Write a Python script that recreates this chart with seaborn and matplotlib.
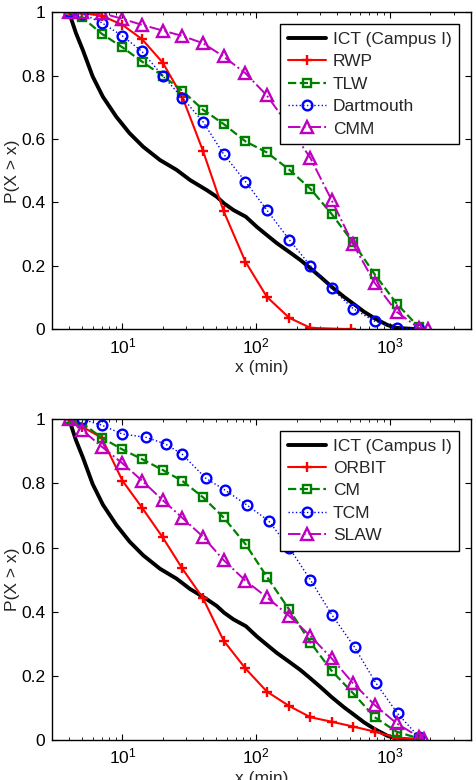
import matplotlib
matplotlib.use("Agg")
import matplotlib.pyplot as plt
import seaborn as sns
from matplotlib.ticker import FixedLocator, FuncFormatter, LogLocator, NullFormatter

# ---------------- data ----------------
ict_x = [4.0, 4.5, 5.06, 6.0, 7.15, 9.0, 11.3, 14.3, 19.1, 25.4, 32, 42.7, 50.7, 57.5, 67.6,
         83.6, 101, 120, 143, 176, 214, 254, 302, 365, 452, 528, 638, 767, 955, 1116, 1585]
ict_y = [1.0, 0.935, 0.882, 0.798, 0.734, 0.671, 0.619, 0.576, 0.534, 0.503, 0.471, 0.439, 0.418,
         0.397, 0.376, 0.355, 0.323, 0.297, 0.271, 0.244, 0.218, 0.192, 0.165, 0.134, 0.102,
         0.081, 0.055, 0.034, 0.013, 0.004, 0.0]

grid_x = [4, 5, 7, 10, 14, 20, 28, 40, 57, 83, 120, 176, 254, 365, 528, 767, 1116, 1632]

rwp_x = [4, 5, 7, 10, 14, 20, 28, 40, 57, 83, 120, 176, 254, 507]
rwp_y = [1.0, 0.998, 0.99, 0.961, 0.916, 0.842, 0.734, 0.563, 0.373, 0.213, 0.102, 0.036, 0.004, 0.0]

tlw_y = [1.0, 0.985, 0.933, 0.890, 0.845, 0.800, 0.753, 0.693, 0.648, 0.593, 0.558, 0.504,
         0.443, 0.364, 0.274, 0.173, 0.081, 0.007]

dart_y = [1.0, 0.996, 0.968, 0.926, 0.877, 0.800, 0.731, 0.655, 0.553, 0.466, 0.376, 0.283,
          0.200, 0.129, 0.065, 0.025, 0.005, 0.0]

cmm_x = [4, 5, 7, 10, 14, 20, 28, 40, 57, 83, 120, 176, 254, 365, 528, 767, 1116, 1632, 1905]
cmm_y = [1.0, 1.0, 0.998, 0.98, 0.961, 0.943, 0.926, 0.903, 0.861, 0.808, 0.738, 0.64, 0.54,
         0.408, 0.269, 0.146, 0.055, 0.004, 0.0]

orbit_y = [1.0, 0.977, 0.943, 0.809, 0.725, 0.632, 0.535, 0.442, 0.31, 0.223, 0.151, 0.106,
           0.071, 0.057, 0.042, 0.026, 0.007, 0.002]

cm_y = [1.0, 0.988, 0.943, 0.906, 0.876, 0.842, 0.808, 0.757, 0.694, 0.611, 0.509, 0.407,
        0.304, 0.216, 0.146, 0.071, 0.026, 0.005]

tcm_x = [5, 7, 10, 15, 21, 28, 42, 58, 85, 124, 176, 254, 369, 543, 781, 1135, 1650]
tcm_y = [1.0, 0.982, 0.954, 0.944, 0.923, 0.891, 0.816, 0.78, 0.733, 0.683, 0.60, 0.499,
         0.389, 0.289, 0.178, 0.083, 0.008]

slaw_x = [4, 5, 7, 10, 14, 20, 28, 40, 57, 83, 120, 176, 254, 365, 528, 767, 1116, 1632, 1800]
slaw_y = [1.0, 0.967, 0.915, 0.863, 0.809, 0.748, 0.693, 0.634, 0.561, 0.497, 0.445, 0.387,
          0.324, 0.255, 0.177, 0.109, 0.052, 0.01, 0.002]

yticks = [0, 0.2, 0.4, 0.6, 0.8, 1]
ytick_labels = ["0", "0.2", "0.4", "0.6", "0.8", "1"]

# ---------------- style ----------------
sns.set_style("ticks")
plt.rcParams["font.family"] = ["Liberation Sans", "DejaVu Sans"]
plt.rcParams["font.size"] = 12.5
plt.rcParams["mathtext.fontset"] = "custom"
plt.rcParams["mathtext.rm"] = "Liberation Sans"

RED = "#FF0000"
GREEN = "#008000"
BLUE = "#0000FF"
MAG = "#BF00BF"

fig = plt.figure(figsize=(4.76, 7.8), dpi=100)
ax1 = fig.add_axes([0.110, 0.578, 0.879, 0.406])
ax2 = fig.add_axes([0.110, 0.0513, 0.879, 0.4111])


def draw(ax, x, y, color, ls, marker, ms, lw, label, mew=1.7):
    sns.lineplot(x=x, y=y, ax=ax, color=color, linestyle=ls, marker=marker,
                 markersize=ms, markerfacecolor="none", markeredgecolor=color,
                 markeredgewidth=mew, linewidth=lw, label=label, sort=False,
                 estimator=None, errorbar=None)


def style(ax):
    ax.set_xscale("log")
    ax.set_xlim(3, 4000)
    ax.set_ylim(0, 1)
    ax.yaxis.set_major_locator(FixedLocator(yticks))
    ax.yaxis.set_major_formatter(FuncFormatter(lambda v, p: ytick_labels[yticks.index(round(v, 1))]
                                               if round(v, 1) in yticks else ""))
    ax.xaxis.set_major_locator(LogLocator(base=10, numticks=10))
    ax.xaxis.set_minor_locator(LogLocator(base=10, subs=range(2, 10), numticks=20))
    ax.xaxis.set_minor_formatter(NullFormatter())
    ax.tick_params(which="both", direction="in", top=True, right=True, colors="black",
                   labelsize=12.5)
    ax.tick_params(which="major", length=4, width=0.8, pad=5)
    ax.tick_params(which="minor", length=2, width=0.6)
    for s in ax.spines.values():
        s.set_visible(True)
        s.set_color("black")
        s.set_linewidth(1.0)
    ax.set_xlabel("x (min)", fontsize=12.5, labelpad=3)
    ax.set_ylabel("P(X > x)", fontsize=12.5, labelpad=1)
    leg = ax.legend(loc="upper right", fancybox=False, framealpha=1, edgecolor="black",
                    fontsize=12.5, handlelength=2.2, labelspacing=0.42, borderaxespad=0.65,
                    handletextpad=0.4, borderpad=0.45)
    leg.get_frame().set_linewidth(1.0)


# top panel
draw(ax1, ict_x, ict_y, "black", "-", None, 0, 2.8, "ICT (Campus I)")
draw(ax1, rwp_x, rwp_y, RED, "-", "+", 7, 1.5, "RWP")
draw(ax1, grid_x, tlw_y, GREEN, "--", "s", 5.5, 1.6, "TLW")
draw(ax1, grid_x, dart_y, BLUE, ":", "o", 7, 1.0, "Dartmouth")
draw(ax1, cmm_x, cmm_y, MAG, "-.", "^", 9, 1.4, "CMM")
style(ax1)

# bottom panel
draw(ax2, ict_x, ict_y, "black", "-", None, 0, 2.8, "ICT (Campus I)")
draw(ax2, grid_x, orbit_y, RED, "-", "+", 7, 1.5, "ORBIT")
draw(ax2, grid_x, cm_y, GREEN, "--", "s", 5.5, 1.6, "CM")
draw(ax2, tcm_x, tcm_y, BLUE, ":", "o", 7, 1.0, "TCM")
draw(ax2, slaw_x, slaw_y, MAG, "-.", "^", 9, 1.4, "SLAW")
style(ax2)

fig.savefig("out.png", dpi=100, facecolor="white")
